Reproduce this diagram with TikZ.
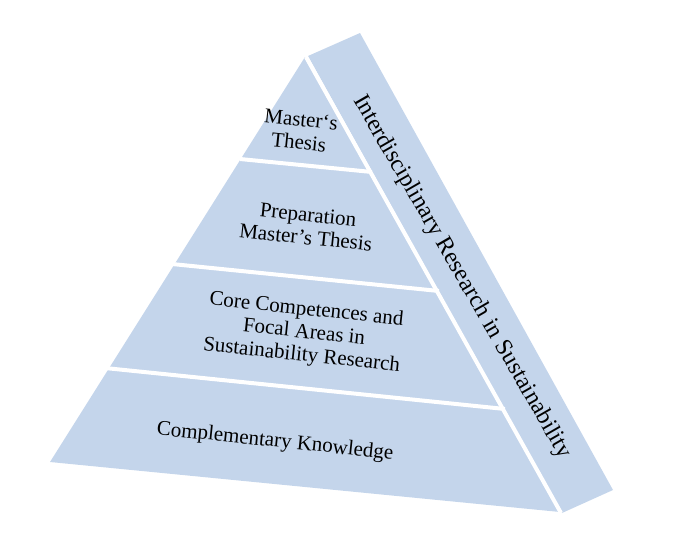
\documentclass[tikz,border=0pt]{standalone}
\usepackage{fontspec}
\setmainfont{Liberation Serif}
\definecolor{pyrblue}{RGB}{196,213,235}
\tikzset{
  face/.style={fill=pyrblue, draw=none},
  gap/.style={draw=white, line width=4pt},
  label/.style={align=center, font=\fontsize{21}{23}\selectfont, rotate=-6}
}
\begin{document}
\begin{tikzpicture}[x=1pt,y=-1pt]
        \useasboundingbox (0,0) rectangle (680,555);

        % faces
        \fill[face] (305,57) -- (560,512) -- (50,462) -- cycle;
        \fill[face] (308,56) -- (360,33) -- (613,490) -- (562,513) -- cycle;

        % white separators
        \draw[gap] (306,57) -- (561,513);
        \draw[gap] (240,159) -- (372,172);
        \draw[gap] (172,264) -- (439,291);
        \draw[gap] (105,368) -- (505,409);

        % labels
        \node[label] (thesis) at (300,131) {Master‘s\\Thesis};
        \node[label] (prep) at (307,226) {Preparation\\Master’s Thesis};
        \node[label] (core) at (304,333) {Core Competences and\\Focal Areas in\\Sustainability Research};
        \node[label] (compl) at (275,442) {Complementary Knowledge};
        \node[font=\fontsize{24}{26}\selectfont, rotate=-60] (inter) at (462,277)
          {Interdisciplinary Research in Sustainability};
    \end{tikzpicture}
\end{document}
